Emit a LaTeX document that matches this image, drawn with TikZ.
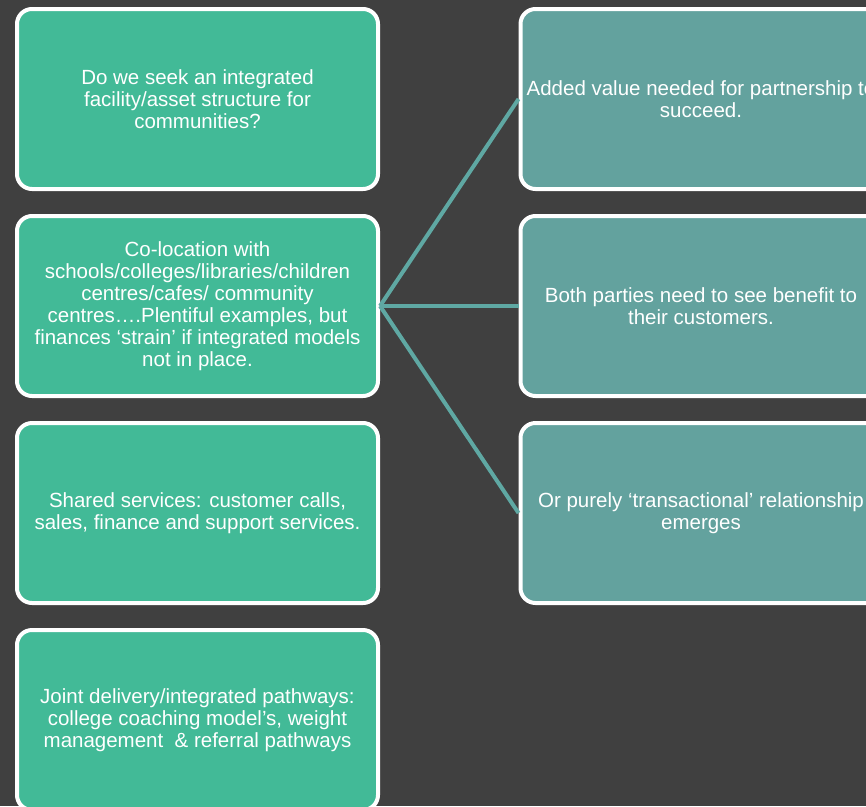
\documentclass[tikz,border=0pt]{standalone}
\usepackage{fontspec}
\setmainfont{Liberation Sans}
\definecolor{bgdark}{RGB}{64,64,64}
\definecolor{boxgreen}{RGB}{66,186,151}
\definecolor{boxteal}{RGB}{99,162,158}
\definecolor{linkteal}{RGB}{95,168,163}
\begin{document}
\begin{tikzpicture}[x=1pt,y=-1pt,
  box/.style={draw=white, line width=4pt, rounded corners=15pt,
    minimum width=361pt, minimum height=180pt, inner sep=0pt,
    align=center, text=white, font=\fontsize{20.5}{22}\selectfont},
  lbox/.style={box, fill=boxgreen},
  rbox/.style={box, fill=boxteal},
  link/.style={draw=linkteal, line width=4pt}]
\fill[bgdark] (0,0) rectangle (866,806);
\useasboundingbox (0,0) rectangle (866,806);
\clip (0,0) rectangle (866,806);

\node[lbox] (l1) at (197.5,99) {Do we seek an integrated\\facility/asset structure for\\communities?};
\node[lbox] (l2) at (197.5,306) {Co-location with\\schools/colleges/libraries/children\\centres/cafes/ community\\centres….Plentiful examples, but\\finances ‘strain’ if integrated models\\not in place.};
\node[lbox] (l3) at (197.5,513) {Shared services: customer calls,\\sales, finance and support services.};
\node[lbox] (l4) at (197.5,720) {Joint delivery/integrated pathways:\\college coaching model’s, weight\\management~~\& referral pathways};

\node[rbox] (r1) at (701,99) {Added value needed for partnership to\\succeed.};
\node[rbox] (r2) at (701,306) {Both parties need to see benefit to\\their customers.};
\node[rbox] (r3) at (701,513) {Or purely ‘transactional’ relationship\\emerges};

\draw[link] (l2.east) -- (r1.west);
\draw[link] (l2.east) -- (r2.west);
\draw[link] (l2.east) -- (r3.west);
\end{tikzpicture}
\end{document}
